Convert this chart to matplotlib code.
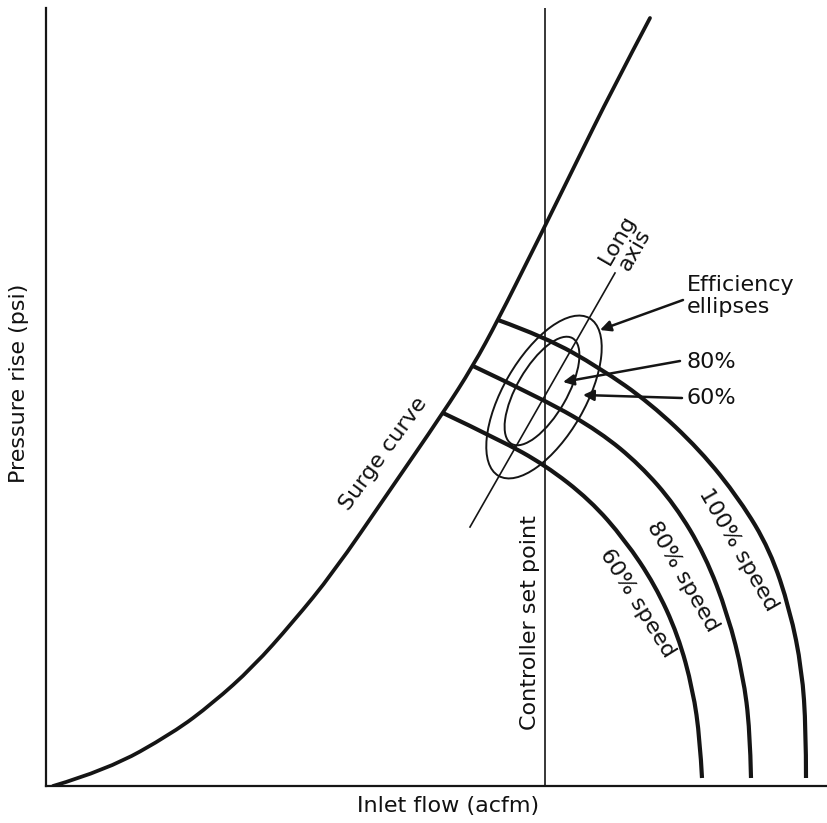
import matplotlib
matplotlib.use("Agg")
import matplotlib.pyplot as plt
from matplotlib.patches import Ellipse, PathPatch
from matplotlib.path import Path

# ---- data (flow, pressure) in arbitrary chart units ----
surge_x = [7, 61, 127, 167, 207, 247, 287, 342, 397, 427, 452, 487, 497, 529, 566, 604]
surge_y = [0, 16, 53, 83, 119, 164, 213, 293, 373, 420, 466, 536, 556, 621, 696, 768]

speed100_x = [452, 499, 554, 604, 654, 694, 724, 744, 756, 760, 760]
speed100_y = [466, 449, 418, 383, 336, 286, 236, 176, 116, 56, 8]
speed80_x = [427, 499, 554, 594, 629, 659, 682, 697, 704, 705]
speed80_y = [420, 386, 354, 321, 281, 231, 171, 111, 56, 8]
speed60_x = [397, 454, 499, 544, 579, 609, 632, 647, 654, 656]
speed60_y = [373, 346, 321, 286, 246, 201, 151, 96, 46, 8]

set_point_x = 499

# efficiency ellipses: centre x, centre y, long axis, short axis, tilt (deg)
ell_outer = (498, 389, 182, 82, 60)
ell_inner = (496, 395, 122, 50, 60)
long_axis_x = [424, 569]
long_axis_y = [259, 513]

XMAX, YMAX = 782, 778


def smooth_path(xs, ys):
    """Quadratic B-spline style path through the listed points (drawn by matplotlib)."""
    pts = list(zip(xs, ys))
    verts = [pts[0]]
    codes = [Path.MOVETO]
    for i in range(1, len(pts) - 1):
        p, q = pts[i], pts[i + 1]
        end = q if i == len(pts) - 2 else ((p[0] + q[0]) / 2, (p[1] + q[1]) / 2)
        verts += [p, end]
        codes += [Path.CURVE3, Path.CURVE3]
    if len(pts) == 2:
        verts.append(pts[1])
        codes.append(Path.LINETO)
    return Path(verts, codes)


fig = plt.figure(figsize=(8.28, 8.23), dpi=100)
ax = fig.add_axes([46 / 828, 37 / 823, 782 / 828, 778 / 823])
ax.set_xlim(0, XMAX)
ax.set_ylim(0, YMAX)
ax.set_xticks([])
ax.set_yticks([])
for s in ["top", "right"]:
    ax.spines[s].set_visible(False)
for s in ["left", "bottom"]:
    ax.spines[s].set_linewidth(1.6)
    ax.spines[s].set_color("#151515")

ink = "#151515"
ax.add_patch(PathPatch(smooth_path(surge_x, surge_y), fill=False, ec=ink, lw=2.7,
                       capstyle="round", joinstyle="round"))
for xs, ys in [(speed100_x, speed100_y), (speed80_x, speed80_y), (speed60_x, speed60_y)]:
    ax.add_patch(PathPatch(smooth_path(xs, ys), fill=False, ec=ink, lw=3.0,
                           capstyle="butt", joinstyle="round"))

ax.axvline(set_point_x, color=ink, lw=1.2)

for cx, cy, w, h, ang in [ell_outer, ell_inner]:
    ax.add_patch(Ellipse((cx, cy), w, h, angle=ang, fill=False, ec=ink, lw=1.4))
ax.plot(long_axis_x, long_axis_y, color=ink, lw=1.2)

fs = 16
tc = "#111111"
fig.text(448 / 828, 1 - 806 / 823, "Inlet flow (acfm)", fontsize=fs, color=tc,
         ha="center", va="center")
fig.text(19 / 828, 1 - 383 / 823, "Pressure rise (psi)", fontsize=fs, color=tc,
         ha="center", va="center", rotation=90)

ax.text(337, 332, "Surge curve", rotation=54, fontsize=fs, color=tc,
        ha="center", va="center", rotation_mode="anchor")
ax.text(484, 163, "Controller set point", rotation=90, fontsize=fs, color=tc,
        ha="center", va="center", rotation_mode="anchor")
ax.text(591, 183, "60% speed", rotation=-58, fontsize=fs, color=tc,
        ha="center", va="center", rotation_mode="anchor")
ax.text(637, 209, "80% speed", rotation=-60, fontsize=fs, color=tc,
        ha="center", va="center", rotation_mode="anchor")
ax.text(692, 236, "100% speed", rotation=-60, fontsize=fs, color=tc,
        ha="center", va="center", rotation_mode="anchor")
ax.text(580, 541, "Long\naxis", rotation=60, fontsize=fs, color=tc,
        ha="center", va="center", rotation_mode="anchor", linespacing=1.0)

arrow = dict(arrowstyle="-|>", color=ink, lw=1.8, mutation_scale=16, shrinkA=0, shrinkB=0)
ax.annotate("", xy=(554, 456), xytext=(637, 486), arrowprops=arrow)
ax.annotate("", xy=(517, 404), xytext=(634, 425), arrowprops=arrow)
ax.annotate("", xy=(537, 391), xytext=(636, 388), arrowprops=arrow)
ax.text(641, 490, "Efficiency\nellipses", fontsize=fs, color=tc, ha="left", va="center",
        linespacing=1.1)
ax.text(641, 424, "80%", fontsize=fs, color=tc, ha="left", va="center")
ax.text(641, 388, "60%", fontsize=fs, color=tc, ha="left", va="center")

fig.savefig("out.png", dpi=100, facecolor="white")
